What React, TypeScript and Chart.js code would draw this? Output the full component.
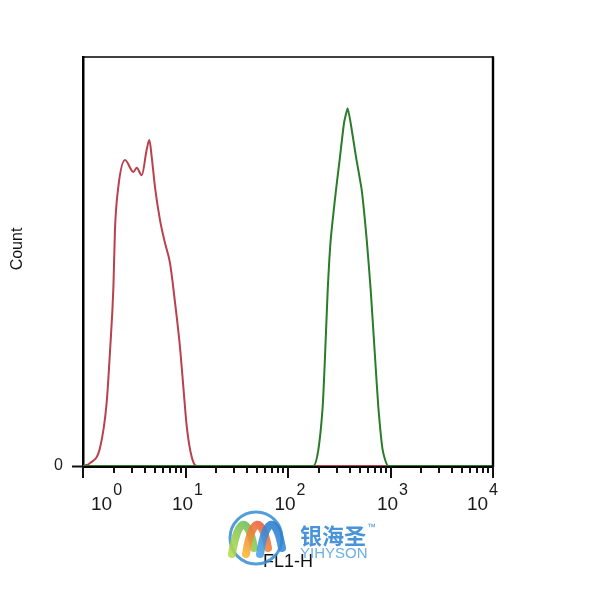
import React, { useEffect, useRef } from 'react';
import { Chart, registerables } from 'chart.js';

Chart.register(...registerables);

// ---- Data (FL1-H intensity vs. normalised count) ----
const redX = [1, 1.17, 1.47, 1.70, 1.83, 1.98, 2.05, 2.21, 2.57, 3.10, 3.34, 3.74, 4.18, 4.44, 4.68, 5.04, 5.64, 6.31, 7.06, 7.91, 8.83, 9.53, 10.3, 11.5, 12.9, 10000];
const redY = [0, 0.7, 4.6, 15.4, 27.6, 43.8, 57.7, 68.2, 74.8, 71.9, 72.9, 71.1, 77.3, 79.7, 75.6, 68.2, 60.1, 54.5, 49.6, 39.9, 29.1, 19.3, 9.5, 2.2, 0, 0];

const greenX = [1, 176.5, 197.5, 218.0, 229.6, 244.0, 261.0, 294.0, 321.6, 351.8, 382.3, 408.9, 460.7, 523.6, 586.1, 641.0, 706.2, 760.3, 839.2, 951.7, 10000];
const greenY = [0, 0, 3.9, 14.5, 26.7, 43.0, 55.3, 67.5, 75.6, 83.8, 87.5, 83.8, 75.6, 67.5, 55.3, 43.0, 26.7, 14.5, 3.9, 0, 0];

const majorTicks = [1, 10, 100, 1000, 10000];
const majorExponents = ['0', '1', '2', '3', '4'];
const minorMultipliers = [2, 3, 4, 5, 6, 7, 8, 9];
const yTickValues = [0];
const xTitle = 'FL1-H';
const yTitle = 'Count';
const wmCn = '银海圣';
const wmEn = 'YIHYSON';
const wmTm = '™';

const FONT = '"Liberation Sans", Arial, Helvetica, sans-serif';

const flowAxisPlugin = {
  id: 'flowAxis',
  afterDraw(chart: any) {
    const { ctx, chartArea: a, scales } = chart;
    const xs = scales.x;
    ctx.save();

    // frame: top and right edges
    ctx.strokeStyle = '#000';
    ctx.lineWidth = 1.6;
    ctx.beginPath();
    ctx.moveTo(a.left - 1, a.top);
    ctx.lineTo(a.right, a.top);
    ctx.stroke();
    ctx.lineWidth = 2.4;
    ctx.beginPath();
    ctx.moveTo(a.right, a.top - 0.8);
    ctx.lineTo(a.right, a.bottom + 1);
    ctx.stroke();

    // x tick marks (major + minor log ticks)
    ctx.strokeStyle = '#111';
    ctx.lineWidth = 2;
    majorTicks.forEach((m, i) => {
      const px = Math.round(xs.getPixelForValue(m));
      ctx.beginPath();
      ctx.moveTo(px, a.bottom);
      ctx.lineTo(px, a.bottom + 12);
      ctx.stroke();
      if (i < majorTicks.length - 1) {
        minorMultipliers.forEach((k) => {
          const p = Math.round(xs.getPixelForValue(m * k));
          ctx.beginPath();
          ctx.moveTo(p, a.bottom);
          ctx.lineTo(p, a.bottom + 7);
          ctx.stroke();
        });
      }
    });

    // x tick labels: 10^n
    ctx.fillStyle = '#1a1a1a';
    ctx.textBaseline = 'alphabetic';
    ctx.textAlign = 'left';
    majorTicks.forEach((m, i) => {
      const px = xs.getPixelForValue(m);
      ctx.font = `19px ${FONT}`;
      const w1 = ctx.measureText('10').width;
      ctx.font = `16px ${FONT}`;
      const w2 = ctx.measureText(majorExponents[i]).width;
      const total = w1 + 1 + w2;
      let left = px - total / 2 + 2;
      if (left < a.left + 8) left = a.left + 8;
      if (left + total > a.right + 5) left = a.right + 5 - total;
      ctx.font = `19px ${FONT}`;
      ctx.fillText('10', left, a.bottom + 44);
      ctx.font = `16px ${FONT}`;
      ctx.fillText(majorExponents[i], left + w1 + 1, a.bottom + 29);
    });

    // axis titles
    ctx.fillStyle = '#111';
    ctx.font = `18px ${FONT}`;
    ctx.textAlign = 'center';
    ctx.fillText(xTitle, (a.left + a.right) / 2, a.bottom + 101);

    ctx.save();
    ctx.translate(18, 249);
    ctx.rotate(-Math.PI / 2);
    ctx.font = `16px ${FONT}`;
    ctx.textAlign = 'center';
    ctx.textBaseline = 'middle';
    ctx.fillText(yTitle, 0, 0);
    ctx.restore();

    // watermark logo
    const cx = (a.left + a.right) / 2 - 32;
    const cy = a.bottom + 72;
    ctx.globalAlpha = 0.88;
    ctx.strokeStyle = '#3b8fd6';
    ctx.lineWidth = 3;
    ctx.beginPath();
    ctx.arc(cx, cy, 26, 0, Math.PI * 2);
    ctx.stroke();

    const bands = [
      { dx: -20, c0: '#b7d94a', c1: '#5cb85c' },
      { dx: -6, c0: '#f7b733', c1: '#e8453c' },
      { dx: 8, c0: '#4aa3e8', c1: '#1f6fc4' },
    ];
    ctx.lineCap = 'round';
    bands.forEach((b) => {
      const x0 = cx + b.dx;
      const g = ctx.createLinearGradient(x0 - 6, cy + 16, x0 + 22, cy - 16);
      g.addColorStop(0, b.c0);
      g.addColorStop(1, b.c1);
      ctx.strokeStyle = g;
      ctx.lineWidth = 8;
      ctx.beginPath();
      ctx.moveTo(x0 - 4, cy + 16);
      ctx.bezierCurveTo(x0 + 2, cy - 22, x0 + 12, cy - 22, x0 + 18, cy + 10);
      ctx.stroke();
    });

    ctx.globalAlpha = 0.92;
    ctx.textAlign = 'left';
    ctx.textBaseline = 'alphabetic';
    ctx.fillStyle = '#3a8ad6';
    ctx.font = `bold 22px "Noto Sans CJK SC", sans-serif`;
    ctx.fillText(wmCn, cx + 44, cy + 6);
    const cnW = ctx.measureText(wmCn).width;
    ctx.font = `9px ${FONT}`;
    ctx.fillText(wmTm, cx + 44 + cnW + 1, cy - 8);
    ctx.fillStyle = '#5fa9e2';
    ctx.font = `15px ${FONT}`;
    ctx.fillText(wmEn, cx + 44, cy + 20);

    ctx.restore();
  },
};

export default function App() {
  const canvasRef = useRef<HTMLCanvasElement | null>(null);

  useEffect(() => {
    const canvas = canvasRef.current;
    if (!canvas) return;
    const chart = new Chart(canvas, {
      type: 'line',
      data: {
        datasets: [
          {
            label: 'green',
            data: greenX.map((x, i) => ({ x, y: greenY[i] })),
            borderColor: '#2a7b2a',
            borderWidth: 2,
            pointRadius: 0,
            fill: false,
            tension: 0.15,
          },
          {
            label: 'red',
            data: redX.map((x, i) => ({ x, y: redY[i] })),
            borderColor: '#b9404c',
            borderWidth: 2,
            pointRadius: 0,
            fill: false,
            cubicInterpolationMode: 'monotone',
          },
        ],
      },
      options: {
        animation: false,
        responsive: false,
        maintainAspectRatio: false,
        layout: { padding: { left: 0, top: 57, right: 118, bottom: 0 } },
        plugins: {
          legend: { display: false },
          tooltip: { enabled: false },
        },
        scales: {
          x: {
            type: 'logarithmic',
            min: 1,
            max: 10000,
            grid: { display: false, drawTicks: false },
            ticks: { display: false },
            border: { display: true, color: '#000', width: 3 },
            afterFit: (s: any) => {
              s.height = 134;
            },
          },
          y: {
            type: 'linear',
            min: 0,
            max: 100,
            afterBuildTicks: (s: any) => {
              s.ticks = yTickValues.map((v) => ({ value: v }));
            },
            afterFit: (s: any) => {
              s.width = 83;
            },
            grid: {
              drawOnChartArea: false,
              drawTicks: true,
              tickLength: 11,
              tickColor: '#111',
              tickWidth: 2,
            },
            border: { display: true, color: '#000', width: 2.5 },
            ticks: {
              padding: 9,
              color: '#222',
              font: { size: 16, family: FONT },
              callback: (v: any) => String(v),
            },
          },
        },
      },
      plugins: [flowAxisPlugin],
    });
    return () => chart.destroy();
  }, []);

  return (
    <div style={{ position: 'absolute', left: 0, top: 0, width: 611, height: 600, background: '#fff' }}>
      <canvas ref={canvasRef} width={611} height={600} style={{ width: 611, height: 600, display: 'block' }} />
    </div>
  );
}
